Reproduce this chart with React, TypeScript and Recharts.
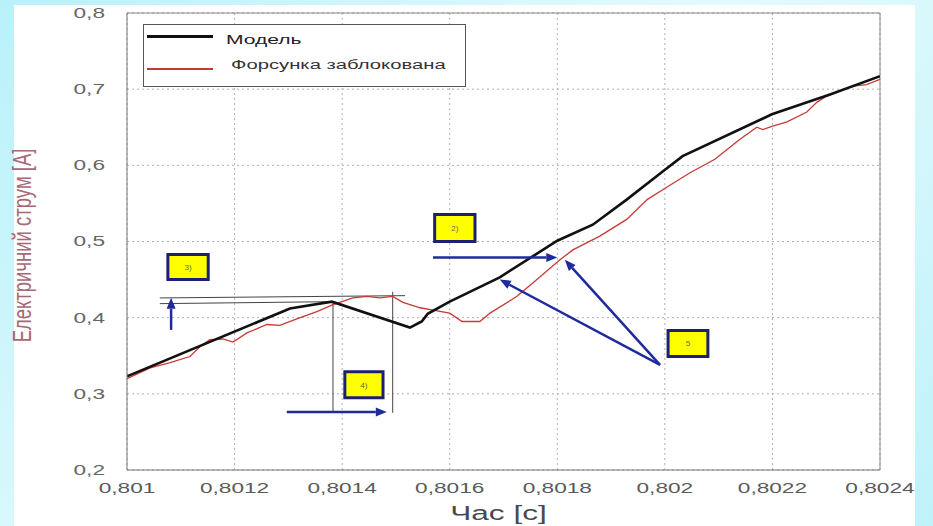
import React from 'react';
import {
  LineChart,
  Line,
  XAxis,
  YAxis,
  CartesianGrid,
  ReferenceLine,
  ReferenceArea,
} from 'recharts';

// Модель (чорна крива)
const modelTime = [
  0.801, 0.801303, 0.801381, 0.801526, 0.801548, 0.801559, 0.8016, 0.801693,
  0.8018, 0.801866, 0.801929, 0.801996, 0.802033, 0.802199, 0.802307, 0.8024,
];
const modelCurrent = [
  0.323, 0.412, 0.421, 0.387, 0.395, 0.405, 0.421, 0.453,
  0.501, 0.522, 0.555, 0.592, 0.612, 0.667, 0.693, 0.717,
];

// Форсунка заблокована (червона крива)
const blockedTime = [
  0.801, 0.801043, 0.80108, 0.801117, 0.801136, 0.801154, 0.801178, 0.801197,
  0.801223, 0.80126, 0.801284, 0.801322, 0.801353, 0.801383, 0.80142, 0.801446,
  0.80147, 0.801494, 0.801513, 0.801545, 0.801569, 0.8016, 0.801623, 0.801656,
  0.801675, 0.801725, 0.801755, 0.801805, 0.801829, 0.801879, 0.801929, 0.801967,
  0.801996, 0.802046, 0.802093, 0.802139, 0.802171, 0.802182, 0.802199, 0.802227,
  0.802264, 0.802283, 0.802301, 0.802349, 0.802375, 0.8024,
];
const blockedCurrent = [
  0.32, 0.334, 0.341, 0.349, 0.362, 0.371, 0.372, 0.368,
  0.38, 0.391, 0.39, 0.4, 0.408, 0.417, 0.426, 0.428,
  0.426, 0.428, 0.42, 0.413, 0.41, 0.406, 0.395, 0.395,
  0.406, 0.428, 0.446, 0.476, 0.489, 0.507, 0.529, 0.555,
  0.568, 0.59, 0.608, 0.634, 0.65, 0.647, 0.651, 0.657,
  0.67, 0.683, 0.691, 0.704, 0.706, 0.713,
];

const xTicks = [0.801, 0.8012, 0.8014, 0.8016, 0.8018, 0.802, 0.8022, 0.8024];
const yTicks = [0.2, 0.3, 0.4, 0.5, 0.6, 0.7, 0.8];

// позначки на графіку
const boxes = [
  { label: '3)', x1: 0.801076, x2: 0.801151, y1: 0.45, y2: 0.483 },
  { label: '4)', x1: 0.801405, x2: 0.801476, y1: 0.295, y2: 0.329 },
  { label: '2)', x1: 0.801572, x2: 0.801647, y1: 0.5, y2: 0.5355 },
  { label: '5', x1: 0.802006, x2: 0.80208, y1: 0.349, y2: 0.383 },
];
const guideLines = [
  [0.801061, 0.4259, 0.801517, 0.4289],
  [0.801061, 0.4184, 0.801383, 0.421],
  [0.801383, 0.421, 0.801383, 0.275],
  [0.801494, 0.434, 0.801494, 0.275],
];
const arrows = [
  [0.801082, 0.384, 0.801082, 0.426],
  [0.801297, 0.276, 0.801483, 0.276],
  [0.801569, 0.479, 0.8018, 0.479],
  [0.801991, 0.338, 0.801693, 0.45],
  [0.801991, 0.338, 0.801814, 0.476],
];

const modelData = modelTime.map((t, i) => ({ t, v: modelCurrent[i] }));
const blockedData = blockedTime.map((t, i) => ({ t, v: blockedCurrent[i] }));

const fmt = (v: number) => String(v).replace('.', ',');
const font = '"Liberation Sans", Arial, sans-serif';
const blue = '#1f2b9c';
const stretch = 1.62; // текст на слайді розтягнутий по горизонталі

const XTick = (p: any) => (
  <text
    transform={`translate(${p.x},${p.y}) scale(${stretch},1)`}
    textAnchor="middle"
    dy="0.71em"
    fill="#5a5a5a"
    fontSize={14}
    fontFamily={font}
  >
    {fmt(p.payload.value)}
  </text>
);

const YTick = (p: any) => (
  <text
    transform={`translate(${p.x},${p.y}) scale(${stretch},1)`}
    textAnchor="end"
    dy="0.355em"
    fill="#666"
    fontSize={14}
    fontFamily={font}
  >
    {fmt(p.payload.value)}
  </text>
);

const YLabel = (p: any) => {
  const vb = p.viewBox || { y: 13, height: 457 };
  return (
    <text
      transform={`translate(22,${vb.y + vb.height / 2 + 4}) scale(1.35,1) rotate(-90)`}
      textAnchor="middle"
      dominantBaseline="central"
      fill="#a86878"
      fontSize={18.5}
      fontFamily={font}
    >
      Електричний струм [A]
    </text>
  );
};

const XLabel = (p: any) => {
  const vb = p.viewBox || { x: 127, width: 753 };
  return (
    <text
      transform={`translate(${vb.x + vb.width / 2 - 5},520) scale(${stretch},1)`}
      textAnchor="middle"
      fill="#4a4a4a"
      fontSize={19.5}
      fontFamily={font}
    >
      Час [с]
    </text>
  );
};

const ArrowShape = (p: any) => {
  const { x1, y1, x2, y2 } = p;
  const a = Math.atan2(y2 - y1, x2 - x1);
  const len = 11;
  const w = 4.5;
  const bx = x2 - len * Math.cos(a);
  const by = y2 - len * Math.sin(a);
  const pts = [
    `${x2},${y2}`,
    `${bx + w * Math.sin(a)},${by - w * Math.cos(a)}`,
    `${bx - w * Math.sin(a)},${by + w * Math.cos(a)}`,
  ].join(' ');
  return (
    <g>
      <line x1={x1} y1={y1} x2={bx} y2={by} stroke={blue} strokeWidth={2.5} />
      <polygon points={pts} fill={blue} />
    </g>
  );
};

const legendText = {
  position: 'absolute' as const,
  lineHeight: 1,
  whiteSpace: 'nowrap' as const,
  transform: `scaleX(${stretch})`,
  transformOrigin: '0 0',
  fontFamily: font,
};

export default function App() {
  return (
    <div
      style={{
        position: 'absolute',
        left: 0,
        top: 0,
        width: 933,
        height: 526,
        overflow: 'hidden',
        background: 'linear-gradient(135deg, #b9f1fa 0%, #e4fbfd 50%, #bff2fa 100%)',
        fontFamily: font,
      }}
    >
      <div
        style={{
          position: 'absolute',
          left: 14,
          top: 5,
          width: 901,
          height: 521,
          background: '#ffffff',
        }}
      />
      <div style={{ position: 'absolute', left: 0, top: 0 }}>
        <LineChart
          width={933}
          height={526}
          margin={{ top: 13, right: 53, bottom: 6, left: 10 }}
        >
          <CartesianGrid stroke="#b0b0b0" strokeDasharray="2 3" />
          <XAxis
            type="number"
            dataKey="t"
            domain={[0.801, 0.8024]}
            ticks={xTicks}
            allowDataOverflow
            tickLine={false}
            tickMargin={7}
            height={50}
            stroke="#777"
            tick={XTick}
            label={{ content: XLabel }}
          />
          <YAxis
            type="number"
            domain={[0.2, 0.8]}
            ticks={yTicks}
            allowDataOverflow
            tickLine={false}
            tickMargin={16}
            width={117}
            stroke="#777"
            tick={YTick}
            label={{ content: YLabel }}
          />
          <ReferenceLine y={0.8} stroke="#888" />
          <ReferenceLine x={0.8024} stroke="#888" />
          {guideLines.map(([xa, ya, xb, yb], i) => (
            <ReferenceLine
              key={'g' + i}
              segment={[{ x: xa, y: ya }, { x: xb, y: yb }]}
              stroke="#444"
              strokeWidth={1}
            />
          ))}
          <Line
            data={blockedData}
            dataKey="v"
            type="linear"
            stroke="#c73a35"
            strokeWidth={1.3}
            dot={false}
            isAnimationActive={false}
          />
          <Line
            data={modelData}
            dataKey="v"
            type="linear"
            stroke="#111"
            strokeWidth={2.6}
            dot={false}
            isAnimationActive={false}
          />
          {arrows.map(([xa, ya, xb, yb], i) => (
            <ReferenceLine
              key={'a' + i}
              segment={[{ x: xa, y: ya }, { x: xb, y: yb }]}
              shape={ArrowShape}
            />
          ))}
          {boxes.map((b) => (
            <ReferenceArea
              key={b.label}
              x1={b.x1}
              x2={b.x2}
              y1={b.y1}
              y2={b.y2}
              fill="#ffff00"
              fillOpacity={1}
              stroke="#1b2170"
              strokeWidth={3}
              label={{ value: b.label, position: 'center', fontSize: 8, fill: '#666' }}
            />
          ))}
        </LineChart>
      </div>
      <div
        style={{
          position: 'absolute',
          left: 143,
          top: 24,
          width: 323,
          height: 63,
          border: '1px solid #555',
          background: '#fff',
          boxSizing: 'border-box',
        }}
      >
        <div style={{ position: 'absolute', left: 3, top: 10, width: 66, height: 3, background: '#111' }} />
        <div style={{ ...legendText, left: 82, top: 8, fontSize: 13, color: '#222' }}>Модель</div>
        <div style={{ position: 'absolute', left: 3, top: 43, width: 66, height: 2, background: '#c73a35' }} />
        <div style={{ ...legendText, left: 87, top: 34, fontSize: 12.5, color: '#333' }}>
          Форсунка заблокована
        </div>
      </div>
    </div>
  );
}
